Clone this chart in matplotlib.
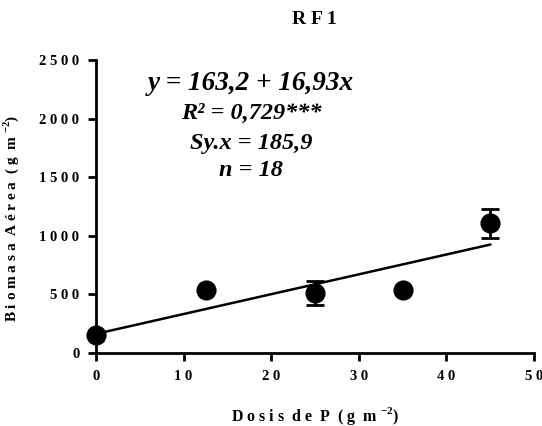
import matplotlib
matplotlib.use("Agg")
import matplotlib.pyplot as plt
import numpy as np

dose = [0, 12.5, 25, 35, 45]
biomass = [153, 537, 513, 537, 1105]
err = [0, 0, 105, 0, 122]
intercept = 163.2
slope = 16.93
xticks = [0, 10, 20, 30, 40, 50]
yticks = [0, 500, 1000, 1500, 2000, 2500]
eq_lines = ["y = 163,2 + 16,93x", "R\u00b2 = 0,729***", "Sy.x = 185,9", "n = 18"]

plt.rcParams['font.family'] = ['Liberation Serif', 'DejaVu Serif']
plt.rcParams['font.weight'] = 'bold'
plt.rcParams['mathtext.fontset'] = 'custom'
plt.rcParams['mathtext.rm'] = 'Liberation Serif:bold'
plt.rcParams['mathtext.bf'] = 'Liberation Serif:bold'

def spaced(s):
    return " ".join(list(s))

fig = plt.figure(figsize=(5.42, 4.26), dpi=100)
ax = fig.add_axes([96/542, 73/426, 438/542, 293/426])

ax.errorbar(dose, biomass, yerr=err, fmt='o', color='black', markersize=13.5,
            ecolor='black', elinewidth=2, capsize=6.5, capthick=2, zorder=3)
xl = np.array([0, 45])
ax.plot(xl, intercept + slope * xl, color='black', lw=1.8, zorder=2)

ax.set_xlim(0, 50)
ax.set_ylim(0, 2500)
ax.set_xticks(xticks)
ax.set_yticks(yticks)
ax.set_xticklabels([spaced(str(t)) for t in xticks])
ax.set_yticklabels([spaced(str(t)) for t in yticks])
for s in ['top', 'right']:
    ax.spines[s].set_visible(False)
for s in ['left', 'bottom']:
    ax.spines[s].set_linewidth(2)
ax.tick_params(width=2, length=6, labelsize=10.5, pad=6)
for lab in ax.get_xticklabels() + ax.get_yticklabels():
    lab.set_fontweight('bold')
for c in ax.get_children():
    try:
        c.set_clip_on(False)
    except Exception:
        pass

ax.set_xlabel("D o s i s  d e  P  ( g  m $^{- 2}$)", fontsize=11.5, fontweight='bold', labelpad=16)
ax.set_ylabel("B i o m a s a  A é r e a  ( g  m $^{- 2}$)", fontsize=11, fontweight='bold')
ax.yaxis.set_label_coords(-0.172, 0.46)
fig.text(314/542, 1 - 19/426, "R F 1", ha='center', va='center', fontsize=14, fontweight='bold')

ys = [2244, 1997, 1741, 1510]
xs = [17.7, 17.7, 17.7, 17.7]
sizes = [19.5, 17.5, 17.5, 17.5]
for t, x, y, fs in zip(eq_lines, xs, ys, sizes):
    ax.text(x, y, t, ha='center', va='baseline', fontsize=fs, fontweight='bold', fontstyle='italic')

fig.savefig("out.png", dpi=100)
